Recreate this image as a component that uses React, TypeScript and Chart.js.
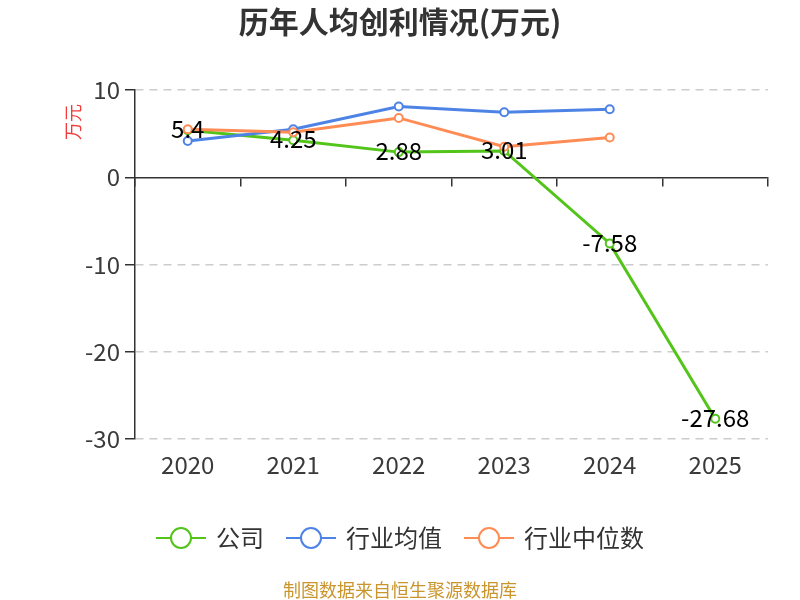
import { useEffect, useRef } from 'react';
import { Chart, registerables } from 'chart.js';

Chart.register(...registerables);

const years = ['2020', '2021', '2022', '2023', '2024', '2025'];
const companyValues = [5.4, 4.25, 2.88, 3.01, -7.58, -27.68];
const industryMean = [4.15, 5.5, 8.1, 7.45, 7.8, null];
const industryMedian = [5.5, 5.15, 6.8, 3.5, 4.55, null];
const seriesNames = ['公司', '行业均值', '行业中位数'];
const seriesColors = ['#52c41a', '#4e83e6', '#ff8c55'];
const yMin = -30;
const yMax = 10;
const yStep = 10;

const titleText = '历年人均创利情况(万元)';
const yAxisTitle = '万元';
const footerText = '制图数据来自恒生聚源数据库';
const FONT = '"Noto Sans CJK SC", "Noto Sans", sans-serif';

const decorPlugin = {
  id: 'decor',
  afterDatasetsDraw(chart: any) {
    const ctx = chart.ctx;
    const meta = chart.getDatasetMeta(0);
    ctx.save();
    ctx.fillStyle = '#000';
    ctx.font = `24px ${FONT}`;
    ctx.textAlign = 'center';
    ctx.textBaseline = 'middle';
    meta.data.forEach((pt: any, i: number) => {
      const v = companyValues[i];
      if (v == null) return;
      ctx.fillText(String(v), pt.x, pt.y - 1);
    });
    ctx.restore();
  },
  afterDraw(chart: any) {
    const ctx = chart.ctx;
    ctx.save();
    // title
    ctx.fillStyle = '#333';
    ctx.font = `bold 30px ${FONT}`;
    ctx.textAlign = 'center';
    ctx.textBaseline = 'middle';
    ctx.fillText(titleText, 400, 22);
    // y axis title
    ctx.save();
    ctx.translate(73, 122);
    ctx.rotate(-Math.PI / 2);
    ctx.fillStyle = '#f03c3c';
    ctx.font = `18px ${FONT}`;
    ctx.fillText(yAxisTitle, 0, 0);
    ctx.restore();
    // legend
    ctx.font = `24px ${FONT}`;
    const lineLen = 50;
    const gapText = 10;
    const gapItems = 22;
    const widths = seriesNames.map((n) => lineLen + gapText + ctx.measureText(n).width);
    const total = widths.reduce((a, b) => a + b, 0) + gapItems * (seriesNames.length - 1);
    let x = 400 - total / 2;
    const ly = 538;
    seriesNames.forEach((name, i) => {
      const c = seriesColors[i];
      ctx.strokeStyle = c;
      ctx.lineWidth = 2;
      ctx.beginPath();
      ctx.moveTo(x, ly);
      ctx.lineTo(x + lineLen, ly);
      ctx.stroke();
      ctx.beginPath();
      ctx.arc(x + lineLen / 2, ly, 10, 0, Math.PI * 2);
      ctx.fillStyle = '#fff';
      ctx.fill();
      ctx.stroke();
      ctx.fillStyle = '#333';
      ctx.textAlign = 'left';
      ctx.fillText(name, x + lineLen + gapText, ly);
      x += widths[i] + gapItems;
    });
    // footer
    ctx.fillStyle = '#c9952c';
    ctx.font = `18px ${FONT}`;
    ctx.textAlign = 'center';
    ctx.fillText(footerText, 400, 590);
    ctx.restore();
  },
};

export default function App() {
  const ref = useRef<HTMLCanvasElement>(null);
  useEffect(() => {
    if (!ref.current) return;
    const mkDs = (label: string, data: any[], color: string, order: number) => ({
      label,
      data,
      borderColor: color,
      backgroundColor: color,
      borderWidth: 3,
      pointRadius: 4,
      pointBorderWidth: 2,
      pointBackgroundColor: '#fff',
      pointBorderColor: color,
      tension: 0,
      order,
      xAxisID: 'x',
      yAxisID: 'y',
      spanGaps: false,
    });
    const chart = new Chart(ref.current, {
      type: 'line',
      data: {
        labels: years,
        datasets: [
          mkDs(seriesNames[0], companyValues, seriesColors[0], 3),
          mkDs(seriesNames[1], industryMean, seriesColors[1], 2),
          mkDs(seriesNames[2], industryMedian, seriesColors[2], 1),
        ],
      },
      options: {
        responsive: false,
        animation: false,
        layout: { padding: { top: 90, right: 32, left: 0, bottom: 0 } },
        plugins: {
          legend: { display: false },
          tooltip: { enabled: false },
          title: { display: false },
        },
        scales: {
          x: {
            type: 'category',
            position: 'bottom',
            offset: true,
            grid: { display: false, drawTicks: false },
            border: { display: false },
            ticks: {
              font: { size: 24, family: FONT },
              color: '#3a3a3a',
              padding: 11,
              maxRotation: 0,
            },
            afterFit: (s: any) => {
              s.height = 161;
            },
          },
          x2: {
            type: 'category',
            position: { y: 0 } as any,
            offset: true,
            labels: years,
            grid: {
              offset: true,
              drawOnChartArea: false,
              drawTicks: true,
              tickLength: 8,
              color: '#333',
              lineWidth: 1.5,
            },
            border: { display: true, color: '#333', width: 1.5 },
            ticks: { display: false },
          },
          y: {
            min: yMin,
            max: yMax,
            ticks: {
              stepSize: yStep,
              font: { size: 24, family: FONT },
              color: '#3a3a3a',
              padding: 5,
            },
            grid: {
              color: (c: any) => (c.tick && c.tick.value === 0 ? 'rgba(0,0,0,0)' : '#cccccc'),
              lineWidth: 1.5,
              tickLength: 10,
              tickColor: '#333',
              tickWidth: 1.5,
            },
            border: { display: true, color: '#333', width: 1.5, dash: [8, 6] },
            afterFit: (s: any) => {
              s.width = 135;
            },
          },
        },
      },
      plugins: [decorPlugin],
    } as any);
    return () => chart.destroy();
  }, []);
  return (
    <div style={{ position: 'fixed', left: 0, top: 0, width: 800, height: 600, background: '#fff' }}>
      <canvas ref={ref} width={800} height={600} style={{ display: 'block' }} />
    </div>
  );
}
